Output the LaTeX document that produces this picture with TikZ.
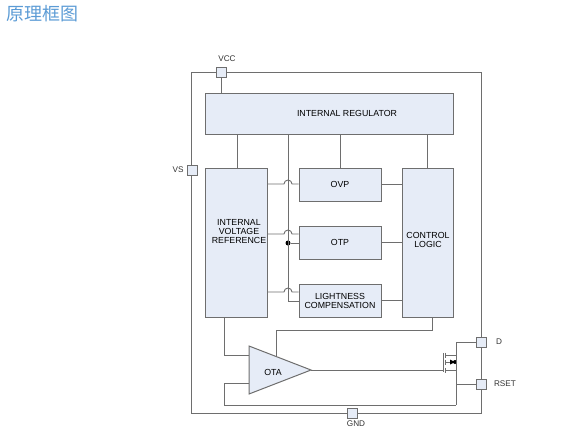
\documentclass[tikz,border=0pt]{standalone}
\usepackage{fontspec}
\setmainfont{Liberation Sans}
\newfontfamily\cjk{Noto Sans CJK SC}
\definecolor{blockfill}{HTML}{E6ECF7}
\definecolor{wiregray}{HTML}{6E6E6E}
\definecolor{titleblue}{HTML}{5B9BD5}

\begin{document}
\begin{tikzpicture}[
    x=1pt,
    y=1pt,
    >=stealth,
    block/.style={
        draw=wiregray,
        rectangle,
        fill=blockfill,
        inner sep=0pt,
        align=center,
        font=\fontsize{8.8}{9.0}\selectfont,
        line width=1pt
    },
    blocktext/.style={
        align=center,
        inner sep=0pt,
        font=\fontsize{8.8}{9.0}\selectfont
    },
    pin/.style={
        draw=wiregray,
        rectangle,
        fill=blockfill,
        minimum size=10pt,
        inner sep=0pt,
        line width=0.8pt
    },
    label/.style={font=\fontsize{8.2}{9}\selectfont, text=black!80},
    wire/.style={draw=wiregray, line width=0.9pt}
]
\useasboundingbox (0,0) rectangle (566,-445);

\node[font=\cjk\fontsize{18}{18}\selectfont, text=titleblue, inner sep=0pt] (title) at (42,-14) {原理框图};

\node[draw=wiregray, line width=0.9pt, minimum width=290pt, minimum height=341pt, inner sep=0pt] (chip) at (336,-242.5) {};

\node[block, minimum width=248pt, minimum height=41pt] (reg) at (329,-113.5) {};
\node[block, minimum width=62pt, minimum height=149pt] (ivr) at (236,-242.5) {};
\node[block, minimum width=82pt, minimum height=33pt] (ovp) at (340,-184.5) {OVP};
\node[block, minimum width=82pt, minimum height=33pt] (otp) at (340,-242.5) {OTP};
\node[block, minimum width=82pt, minimum height=33pt] (lc) at (340,-300.5) {LIGHTNESS\\COMPENSATION};
\node[block, minimum width=51pt, minimum height=149pt] (ctrl) at (427.5,-242.5) {};

\node[blocktext] (regtext) at (347,-113.5) {INTERNAL REGULATOR};
\node[blocktext] (ivrtext) at (239,-231.5) {INTERNAL\\VOLTAGE\\REFERENCE};
\node[blocktext] (ctrltext) at (428,-239.5) {CONTROL\\LOGIC};

\node[pin] (vcc) at (221,-72) {};
\node[pin] (vs) at (192,-170) {};
\node[pin] (d) at (481.5,-342) {};
\node[pin] (rset) at (481.5,-384) {};
\node[pin] (gnd) at (352,-413) {};

\node[label] (vcclabel) at (227,-59) {VCC};
\node[label] (vslabel) at (178,-170) {VS};
\node[label] (dlabel) at (499,-342) {D};
\node[label] (rsetlabel) at (505,-384) {RSET};
\node[label] (gndlabel) at (356,-424) {GND};

% OTA
\coordinate (otaup) at (249,-346);
\coordinate (otadown) at (249,-394);
\coordinate (otatip) at (311,-370);
\draw[block] (otaup) -- (otatip) -- (otadown) -- cycle;
\node[blocktext] (ota) at (273,-372) {OTA};

% supply lines
\draw[wire] (vcc.south) -- (vcc.south |- reg.north);
\draw[wire] (ivr.north -| 237,0) -- (reg.south -| 237,0);
\draw[wire] (ovp.north) -- (ovp.north |- reg.south);
\draw[wire] (ctrl.north) -- (ctrl.north |- reg.south);

% bus
\coordinate (bustop) at (288,-134);
\coordinate (busend) at (299,-301);
\node[circle, fill=black, inner sep=0pt, minimum size=5pt] (dot) at (288,-243) {};
\draw[wire] (bustop) |- (busend);
\draw[wire] (dot) -- (dot -| otp.west);
\foreach \yy/\dest in {-184/ovp,-234/otp,-292/lc}
    \draw[wire] (ivr.east |- 0,\yy) -- (284,\yy) arc (180:0:4) -- (\dest.west |- 0,\yy);

% logic
\draw[wire] (ctrl.south -| 432,0) |- (276,-330) -- (276,-357);
\draw[wire] (ivr.south -| 224,0) |- (249,-355);
\draw[wire] (249,-383) -| (224,-405) -- (456,-405);
\draw[wire] (lc.east |- 0,-300) -- (ctrl.west |- 0,-300);
\draw[wire] (ovp.east) -- (ovp.east -| ctrl.west);
\draw[wire] (otp.east) -- (otp.east -| ctrl.west);

% mosfet
\coordinate (gate) at (443,-370);
\coordinate (drain) at (456,-355);
\coordinate (body) at (455,-362);
\coordinate (source) at (456,-370);
\draw[wire] (otatip) -- (gate);
\draw[wire] (443,-353) -- (443,-372);
\foreach \yy in {-355,-362,-370}
    \draw[wire] (445,\yy+2.5) -- (445,\yy-2.5);
\draw[wire] (445,-355) -- (drain) |- (d.west);
\draw[wire] (445,-370) -- (source);
\draw[wire] (445,-362) -- (body);
\fill[black] (450,-359.5) -- (455,-362) -- (450,-364.5) -- cycle;
\fill[black] (body) circle (2pt);
\draw[wire] (456,-355) -- (456,-405);
\draw[wire] (456,-384) -- (rset.west);
\end{tikzpicture}
\end{document}
